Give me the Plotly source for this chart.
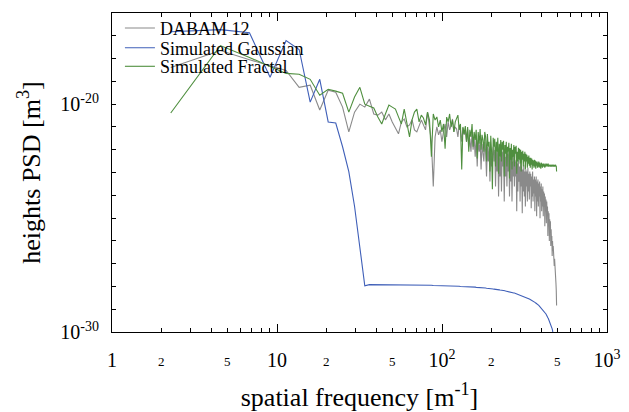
import numpy as np
import plotly.graph_objects as go

# frequency grid: k * df  (m^-1)
df_freq = 2.27
k_index = np.arange(1, 219)
freq = df_freq * k_index

# log10 of PSD values
dabam_log_psd = [
    -18.39, -17.65, -18.05, -18.30, -18.52, -19.26, -19.17, -20.26, -19.39, -19.48,
    -20.13, -21.22, -20.35, -20.00, -20.13, -19.78, -20.43, -20.48, -20.35, -20.69,
    -20.43, -20.78, -21.04, -21.30, -20.78, -20.65, -21.00, -20.91, -20.69, -21.13,
    -21.22, -20.96, -20.70, -20.91, -21.13, -20.35, -21.00, -21.65, -23.61, -21.44,
    -21.00, -21.35, -21.13, -21.65, -21.22, -20.87, -21.44, -20.78, -21.13, -20.96,
    -20.65, -21.22, -21.00, -21.09, -21.44, -20.91, -21.13, -21.65, -21.04, -21.35,
    -21.13, -21.65, -21.09, -21.87, -21.52, -22.09, -21.22, -22.00, -21.44, -22.31,
    -21.44, -22.74, -21.57, -22.09, -21.65, -22.87, -21.74, -22.31, -22.52, -21.65,
    -22.09, -23.18, -21.87, -22.52, -21.87, -23.40, -22.00, -22.74, -22.31, -21.87,
    -22.52, -22.00, -23.61, -22.09, -22.96, -21.87, -24.05, -22.31, -23.18, -22.00,
    -23.83, -22.09, -22.74, -21.92, -24.27, -22.31, -23.18, -22.00, -23.61, -22.18,
    -22.96, -22.09, -24.05, -22.31, -23.40, -22.09, -24.27, -22.52, -23.18, -22.18,
    -23.61, -22.44, -23.18, -22.52, -24.70, -22.61, -23.83, -22.44, -23.40, -22.74,
    -24.27, -22.61, -23.61, -22.74, -24.79, -22.87, -23.83, -22.66, -24.05, -22.96,
    -24.49, -22.87, -23.61, -22.96, -24.27, -22.79, -23.83, -23.05, -24.18, -22.96,
    -23.61, -23.05, -24.57, -23.18, -24.05, -22.96, -24.27, -23.31, -23.92, -23.18,
    -24.70, -23.31, -24.05, -23.18, -24.92, -23.40, -24.27, -23.31, -24.49, -23.48,
    -24.05, -23.40, -25.01, -23.61, -24.27, -23.48, -24.70, -23.74, -24.49, -23.61,
    -24.92, -23.83, -24.49, -23.92, -25.36, -24.05, -24.70, -24.18, -25.23, -24.27,
    -24.92, -24.49, -25.79, -24.70, -25.36, -24.79, -26.01, -25.05, -25.57, -25.14,
    -26.23, -25.49, -26.01, -25.79, -26.66, -26.01, -26.44, -26.23, -26.97, -26.53,
    -27.10, -26.79, -27.31, -27.23, -27.75, -27.84, -28.18, -28.84,
]

gaussian_log_psd = [
    -16.82, -16.73, -16.87, -18.82, -17.21, -17.60, -19.91, -18.91, -20.78, -20.83,
    -21.87, -22.96, -24.48, -26.22, -27.97, -27.92, -27.92, -27.93, -27.93, -27.93,
    -27.93, -27.93, -27.93, -27.93, -27.93, -27.94, -27.94, -27.94, -27.94, -27.94,
    -27.94, -27.94, -27.95, -27.95, -27.95, -27.95, -27.95, -27.95, -27.96, -27.96,
    -27.96, -27.96, -27.96, -27.96, -27.97, -27.97, -27.97, -27.97, -27.98, -27.98,
    -27.98, -27.98, -27.99, -27.99, -27.99, -27.99, -28.00, -28.00, -28.00, -28.00,
    -28.01, -28.01, -28.01, -28.02, -28.02, -28.02, -28.03, -28.03, -28.03, -28.03,
    -28.04, -28.04, -28.05, -28.05, -28.05, -28.06, -28.06, -28.06, -28.07, -28.07,
    -28.07, -28.08, -28.08, -28.09, -28.09, -28.10, -28.10, -28.10, -28.11, -28.11,
    -28.12, -28.12, -28.13, -28.13, -28.14, -28.14, -28.15, -28.15, -28.16, -28.16,
    -28.17, -28.17, -28.18, -28.18, -28.19, -28.19, -28.20, -28.21, -28.21, -28.22,
    -28.23, -28.23, -28.24, -28.25, -28.25, -28.26, -28.27, -28.27, -28.28, -28.29,
    -28.29, -28.30, -28.31, -28.32, -28.32, -28.33, -28.34, -28.35, -28.36, -28.36,
    -28.37, -28.38, -28.39, -28.40, -28.41, -28.41, -28.42, -28.43, -28.44, -28.45,
    -28.46, -28.47, -28.48, -28.49, -28.51, -28.52, -28.53, -28.54, -28.55, -28.56,
    -28.57, -28.58, -28.60, -28.61, -28.62, -28.63, -28.65, -28.66, -28.67, -28.68,
    -28.70, -28.71, -28.73, -28.74, -28.76, -28.77, -28.79, -28.80, -28.82, -28.83,
    -28.85, -28.87, -28.89, -28.91, -28.93, -28.94, -28.96, -28.98, -29.00, -29.02,
    -29.04, -29.07, -29.09, -29.12, -29.14, -29.17, -29.19, -29.21, -29.24, -29.26,
    -29.30, -29.33, -29.37, -29.40, -29.44, -29.47, -29.51, -29.54, -29.58, -29.61,
    -29.66, -29.71, -29.76, -29.81, -29.86, -29.93, -30.00, -30.07, -30.14, -30.21,
    -30.31, -30.41, -30.52, -30.67, -30.82, -31.00, -31.26, -31.61,
]

fractal_log_psd = [
    -20.39, -17.43, -17.95, -18.34, -18.65, -18.69, -18.91, -19.61, -19.35, -19.43,
    -19.52, -20.35, -19.69, -19.26, -20.00, -20.09, -20.17, -20.56, -20.87, -20.43,
    -20.04, -20.13, -20.22, -20.56, -20.87, -20.22, -20.78, -21.44, -20.69, -20.35,
    -20.22, -20.78, -20.48, -20.61, -20.91, -20.35, -20.70, -22.31, -20.43, -20.70,
    -20.56, -21.00, -20.70, -21.22, -20.87, -21.96, -20.57, -20.78, -20.43, -21.00,
    -20.70, -21.22, -20.78, -20.57, -20.48, -21.13, -20.87, -22.87, -21.00, -21.31,
    -20.96, -21.65, -21.00, -22.09, -21.13, -21.44, -20.87, -21.87, -21.22, -21.57,
    -21.13, -22.39, -21.22, -21.74, -21.09, -22.00, -21.35, -21.57, -22.09, -21.22,
    -21.44, -22.52, -21.31, -21.87, -21.65, -22.96, -21.39, -22.09, -23.74, -21.48,
    -21.87, -21.52, -22.74, -21.65, -22.09, -21.48, -23.05, -21.74, -22.31, -21.57,
    -22.52, -21.65, -22.00, -21.61, -23.18, -21.79, -22.18, -21.65, -22.74, -21.87,
    -22.09, -21.70, -23.26, -21.92, -22.44, -21.74, -22.87, -22.00, -22.31, -21.79,
    -22.74, -21.87, -22.18, -21.83, -23.05, -22.09, -22.52, -21.92, -22.44, -21.96,
    -22.61, -22.00, -22.96, -22.09, -22.44, -22.05, -22.74, -22.18, -22.52, -22.09,
    -22.87, -22.18, -22.52, -22.22, -22.79, -22.31, -22.61, -22.26, -22.70, -22.35,
    -22.79, -22.35, -22.66, -22.39, -22.87, -22.44, -22.70, -22.48, -22.79, -22.44,
    -22.74, -22.48, -22.83, -22.52, -22.70, -22.52, -22.79, -22.57, -22.74, -22.52,
    -22.79, -22.57, -22.74, -22.61, -22.83, -22.57, -22.70, -22.61, -22.79, -22.61,
    -22.74, -22.61, -22.70, -22.66, -22.79, -22.61, -22.74, -22.66, -22.70, -22.61,
    -22.74, -22.66, -22.70, -22.61, -22.74, -22.66, -22.70, -22.66, -22.74, -22.70,
    -22.66, -22.74, -22.70, -22.66, -22.74, -22.70, -22.66, -22.70, -22.74, -22.70,
    -22.66, -22.74, -22.70, -22.70, -22.66, -22.74, -22.70, -22.96,
]

assert len(dabam_log_psd) == len(freq)
assert len(gaussian_log_psd) == len(freq)
assert len(fractal_log_psd) == len(freq)

series_names = ["DABAM 12", "Simulated Gaussian", "Simulated Fractal"]
series_logs = [dabam_log_psd, gaussian_log_psd, fractal_log_psd]
series_colors = ["#8a8a8a", "#3f5fb8", "#4f8f3f"]
legend_ids = ["legend", "legend2", "legend3"]
legend_y = [0.952, 0.89, 0.832]

x_major_vals = [1, 10, 100, 1000]
x_major_text = ["1", "10", "10<sup>2</sup>", "10<sup>3</sup>"]
x_small_label_vals = [2, 5, 20, 50, 200, 500]
x_small_label_text = ["2", "5", "2", "5", "2", "5"]
x_minor_vals = [m * d for d in (1, 10, 100) for m in range(2, 10)]

y_decades = list(range(-30, -15))
y_label_text = {-30: "10<sup>-30</sup>", -20: "10<sup>-20</sup>"}

FONT = "Liberation Serif"

fig = go.Figure()
for name, logs, color, lid in zip(series_names, series_logs, series_colors, legend_ids):
    fig.add_trace(go.Scatter(
        x=freq, y=10.0 ** np.array(logs), mode="lines", name=name,
        line=dict(color=color, width=1.1), legend=lid,
    ))

for v, t in zip(x_small_label_vals, x_small_label_text):
    fig.add_annotation(
        x=np.log10(v), y=0, xref="x", yref="paper", text=t, showarrow=False,
        yanchor="top", yshift=-20, font=dict(family=FONT, size=13, color="black"),
    )

legend_common = dict(
    xanchor="left", yanchor="middle",
    bgcolor="rgba(0,0,0,0)", borderwidth=0,
    font=dict(family=FONT, size=18, color="black"),
)

fig.update_layout(
    width=621, height=404,
    margin=dict(l=104, r=22, t=2, b=80),
    paper_bgcolor="white", plot_bgcolor="white",
    font=dict(family=FONT, color="black"),
    showlegend=True,
    legend=dict(x=0.016, y=legend_y[0], **legend_common),
    legend2=dict(x=0.016, y=legend_y[1], **legend_common),
    legend3=dict(x=0.016, y=legend_y[2], **legend_common),
    xaxis=dict(
        type="log", range=[0, 3],
        tickmode="array", tickvals=x_major_vals, ticktext=x_major_text,
        ticks="inside", ticklen=8, tickwidth=1, tickcolor="black",
        showline=True, linecolor="black", linewidth=1, mirror="ticks",
        showgrid=False, zeroline=False, ticklabelstandoff=10,
        tickfont=dict(family=FONT, size=20, color="black"),
        minor=dict(tickmode="array", tickvals=x_minor_vals, ticks="inside",
                   ticklen=4, tickwidth=1, tickcolor="black", showgrid=False),
        title=dict(text="spatial frequency [m<sup>-1</sup>]",
                   font=dict(family=FONT, size=26, color="black"), standoff=18),
    ),
    yaxis=dict(
        type="log", range=[-30, -16],
        tickmode="array", tickvals=[10.0 ** d for d in y_decades],
        ticktext=[y_label_text.get(d, "") for d in y_decades],
        ticks="inside", ticklen=4, tickwidth=1, tickcolor="black",
        showline=True, linecolor="black", linewidth=1, mirror="ticks",
        showgrid=False, zeroline=False, ticklabelstandoff=8,
        tickfont=dict(family=FONT, size=20, color="black"),
        title=dict(text="heights PSD [m<sup>3</sup>]",
                   font=dict(family=FONT, size=26, color="black"), standoff=12),
    ),
)

fig.write_html("out.html")
